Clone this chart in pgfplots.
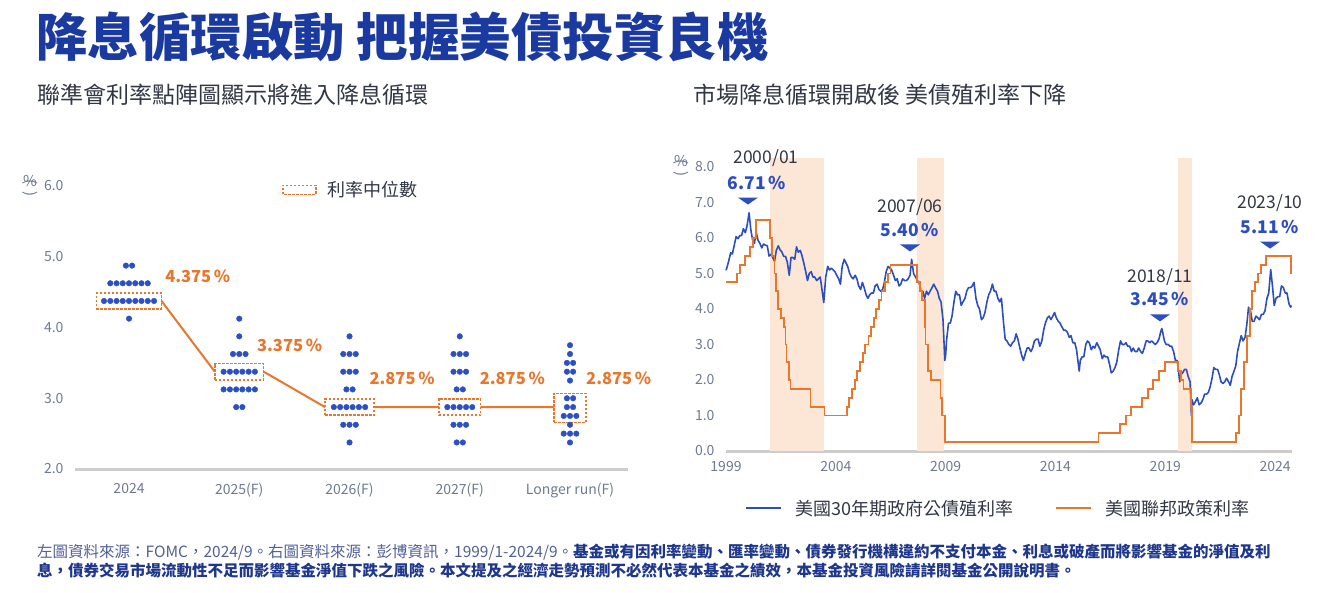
\documentclass[border=0pt]{standalone}
\usepackage{fontspec}
\setmainfont{Noto Sans CJK TC}
\usepackage{pgfplots}
\pgfplotsset{compat=1.18}

\definecolor{titleblue}{RGB}{27,58,160}
\definecolor{dotblue}{RGB}{44,80,196}
\definecolor{lineblue}{RGB}{44,78,190}
\definecolor{rateorange}{RGB}{232,118,44}
\definecolor{shade}{RGB}{252,230,214}
\definecolor{axisgray}{RGB}{205,205,205}
\definecolor{ticktext}{RGB}{110,122,145}
\definecolor{darktext}{RGB}{50,55,70}
\definecolor{notelight}{RGB}{80,95,150}
\definecolor{notebold}{RGB}{30,55,140}

\newcommand\fs[1]{\fontsize{#1}{#1}\selectfont}

% flat triangle pointing down, for the peak markers
\pgfdeclareplotmark{dtri}{%
  \pgfpathmoveto{\pgfqpoint{-10pt}{3.5pt}}%
  \pgfpathlineto{\pgfqpoint{10pt}{3.5pt}}%
  \pgfpathlineto{\pgfqpoint{0pt}{-3.5pt}}%
  \pgfpathclose\pgfusepathqfill}

\pgfplotsset{
  chartbase/.style={
    scale only axis, clip=false,
    axis x line*=bottom, axis y line*=left,
    y axis line style={draw=none},
    x axis line style={draw=axisgray, line width=3pt, -},
    major tick length=0pt,
    tick style={draw=none},
    tick label style={font=\fs{14}, text=ticktext},
    /pgf/number format/assume math mode=true,
    yticklabel style={/pgf/number format/fixed, /pgf/number format/fixed zerofill,
      /pgf/number format/precision=1, xshift=-8pt},
  },
}

\begin{document}
\begin{tikzpicture}
\useasboundingbox (0,0) rectangle (1322pt,592pt);

% titles
\node[anchor=west, inner sep=0, text=titleblue, font=\bfseries\fs{51.5}] at (36pt,555pt) {降息循環啟動 把握美債投資良機};
\node[anchor=west, inner sep=0, text=darktext, font=\fs{23}] at (37pt,497pt) {聯準會利率點陣圖顯示將進入降息循環};
\node[anchor=west, inner sep=0, text=darktext, font=\fs{23}] at (693pt,497pt) {市場降息循環開啟後 美債殖利率下降};

% unit labels
\node[align=center, inner sep=0, text=ticktext, font=\fs{15}] at (30pt,404pt)
  {\rotatebox{-90}{(}\\[-10pt]\%\\[-10pt]\rotatebox{-90}{)}};
\node[align=center, inner sep=0, text=ticktext, font=\fs{15}] at (681pt,424pt)
  {\rotatebox{-90}{(}\\[-10pt]\%\\[-10pt]\rotatebox{-90}{)}};

% ---------------- left: dot plot ----------------
\begin{axis}[chartbase,
  at={(75pt,123pt)}, anchor=south west,
  width=553pt, height=283pt,
  xmin=-0.49, xmax=4.526, ymin=2, ymax=6,
  xtick={0,1,2,3,4},
  xticklabels={2024,2025(F),2026(F),2027(F),Longer run(F)},
  xticklabel style={yshift=-11pt},
  ytick={2,3,4,5,6},
  unbounded coords=jump,
  legend style={at={(0.374,0.986)}, anchor=west, draw=none, fill=none,
    inner sep=0pt, font=\fs{18}, text=darktext,
    /tikz/every odd column/.append style={column sep=9pt}},
]
% median boxes
\addplot[rateorange, line width=1.5pt, dash pattern=on 2.5pt off 1.5pt, forget plot]
  coordinates {(-0.295,4.265) (0.295,4.265) (0.295,4.485) (-0.295,4.485) (-0.295,4.265)};
\addplot[rateorange, line width=1.5pt, dash pattern=on 2.5pt off 1.5pt, forget plot]
  coordinates {(0.778,3.26) (1.222,3.26) (1.222,3.49) (0.778,3.49) (0.778,3.26)};
\addplot[rateorange, line width=1.5pt, dash pattern=on 2.5pt off 1.5pt, forget plot]
  coordinates {(1.778,2.76) (2.222,2.76) (2.222,2.99) (1.778,2.99) (1.778,2.76)};
\addplot[rateorange, line width=1.5pt, dash pattern=on 2.5pt off 1.5pt, forget plot]
  coordinates {(2.81,2.76) (3.19,2.76) (3.19,2.99) (2.81,2.99) (2.81,2.76)};
\addplot[rateorange, line width=1.5pt, dash pattern=on 2.5pt off 1.5pt, forget plot]
  coordinates {(3.855,2.66) (4.145,2.66) (4.145,3.07) (3.855,3.07) (3.855,2.66)};
% median path
\addplot[rateorange, line width=2pt, forget plot] coordinates {
  (0.295,4.375) (0.778,3.375) (1,nan)
  (1.222,3.375) (1.778,2.875) (2,nan)
  (2.222,2.875) (2.81,2.875) (3,nan)
  (3.19,2.875) (3.855,2.875)};
% dots
\addplot[only marks, mark=*, mark size=2.8pt, dotblue, forget plot] coordinates {
  (-0.028,4.875) (0.028,4.875)
  (-0.170,4.625) (-0.113,4.625) (-0.057,4.625) (0,4.625) (0.057,4.625) (0.113,4.625) (0.170,4.625)
  (-0.227,4.375) (-0.170,4.375) (-0.113,4.375) (-0.057,4.375) (0,4.375) (0.057,4.375) (0.113,4.375) (0.170,4.375) (0.227,4.375)
  (0,4.125)
  (1,4.125) (1,3.875)
  (0.943,3.625) (1,3.625) (1.057,3.625)
  (0.858,3.375) (0.915,3.375) (0.972,3.375) (1.028,3.375) (1.085,3.375) (1.142,3.375)
  (0.858,3.125) (0.915,3.125) (0.972,3.125) (1.028,3.125) (1.085,3.125) (1.142,3.125)
  (0.972,2.875) (1.028,2.875)
  (2,3.875)
  (1.943,3.625) (2,3.625) (2.057,3.625)
  (1.943,3.375) (2,3.375) (2.057,3.375)
  (1.972,3.125) (2.028,3.125)
  (1.858,2.875) (1.915,2.875) (1.972,2.875) (2.028,2.875) (2.085,2.875) (2.142,2.875)
  (1.943,2.625) (2,2.625) (2.057,2.625)
  (2,2.375)
  (3,3.875)
  (2.943,3.625) (3,3.625) (3.057,3.625)
  (2.943,3.375) (3,3.375) (3.057,3.375)
  (2.972,3.125) (3.028,3.125)
  (2.887,2.875) (2.943,2.875) (3,2.875) (3.057,2.875) (3.113,2.875)
  (2.943,2.625) (3,2.625) (3.057,2.625)
  (2.972,2.375) (3.028,2.375)
  (4,3.75) (4,3.625) (3.972,3.5) (4.028,3.5) (3.972,3.375) (4.028,3.375) (4,3.25)
  (3.972,3.0) (4.028,3.0) (3.972,2.875) (4.028,2.875)
  (3.943,2.75) (4,2.75) (4.057,2.75) (4,2.625)
  (3.943,2.5) (4,2.5) (4.057,2.5) (4,2.375)};
\addlegendimage{legend image code/.code={\draw[rateorange, line width=1.5pt, dash pattern=on 2.5pt off 1.5pt] (0pt,-4.5pt) rectangle (33pt,4.5pt);}}
\addlegendentry{利率中位數}
% median labels
\begin{scope}[every node/.style={anchor=west, inner sep=0, text=rateorange, font=\bfseries\fs{16.5}}]
\node at (axis cs:0.327,4.72) {4.375\,\%};
\node at (axis cs:1.16,3.75) {3.375\,\%};
\node at (axis cs:2.18,3.28) {2.875\,\%};
\node at (axis cs:3.18,3.28) {2.875\,\%};
\node at (axis cs:4.145,3.28) {2.875\,\%};
\end{scope}
\end{axis}

% ---------------- right: yields and policy rate ----------------
\begin{axis}[chartbase,
  at={(726pt,141pt)}, anchor=south west,
  width=566pt, height=292.9pt,
  xmin=1999, xmax=2024.77, ymin=0, ymax=8.25,
  xtick={1999,2004,2009,2014,2019,2024},
  xticklabels={1999,2004,2009,2014,2019,2024},
  xticklabel style={yshift=-7pt},
  ytick={0,1,2,3,4,5,6,7,8},
  legend columns=-1,
  legend style={at={(0.0336,-0.195)}, anchor=west, draw=none, fill=none,
    inner sep=0pt, font=\fs{18}, text=darktext,
    /tikz/every odd column/.append style={column sep=11pt},
    /tikz/every even column/.append style={column sep=40pt}},
  legend image code/.code={\draw[#1, line width=2pt] (0pt,0pt) -- (35pt,0pt);},
]
% rate-cut cycles
\addplot[fill=shade, draw=none, forget plot] coordinates {(2001.0,0) (2001.0,8.25) (2003.46,8.25) (2003.46,0)} -- cycle;
\addplot[fill=shade, draw=none, forget plot] coordinates {(2007.70,0) (2007.70,8.25) (2008.92,8.25) (2008.92,0)} -- cycle;
\addplot[fill=shade, draw=none, forget plot] coordinates {(2019.56,0) (2019.56,8.25) (2020.20,8.25) (2020.20,0)} -- cycle;

% US 30Y Treasury yield
\addplot[lineblue, line width=1.6pt, line join=round] coordinates {
(1999.00,5.09) (1999.04,5.16) (1999.13,5.37) (1999.21,5.58) (1999.29,5.55) (1999.38,5.81) (1999.46,6.04)
(1999.54,5.98) (1999.63,6.07) (1999.71,6.07) (1999.79,6.26) (1999.88,6.15) (1999.96,6.35)
(2000.05,6.71) (2000.13,6.23) (2000.21,5.95) (2000.29,5.85) (2000.38,6.15) (2000.46,5.93)
(2000.54,5.85) (2000.63,5.72) (2000.71,5.83) (2000.79,5.80) (2000.88,5.78) (2000.96,5.49)
(2001.04,5.54) (2001.13,5.45) (2001.21,5.34) (2001.29,5.65) (2001.38,5.78) (2001.46,5.67)
(2001.54,5.61) (2001.63,5.48) (2001.71,5.48) (2001.79,5.32) (2001.88,4.95) (2001.96,5.45)
(2002.04,5.45) (2002.13,5.40) (2002.21,5.75) (2002.29,5.60) (2002.38,5.65) (2002.46,5.50)
(2002.54,5.30) (2002.63,5.05) (2002.71,4.80) (2002.79,5.00) (2002.88,5.05) (2002.96,4.90)
(2003.04,4.90) (2003.13,4.80) (2003.21,4.85) (2003.29,4.90) (2003.38,4.50) (2003.45,4.18)
(2003.54,4.90) (2003.63,5.20) (2003.71,5.10) (2003.79,5.15) (2003.88,5.10) (2003.96,5.05)
(2004.04,4.95) (2004.13,4.85) (2004.21,4.70) (2004.29,5.20) (2004.38,5.40) (2004.46,5.30)
(2004.54,5.20) (2004.63,5.00) (2004.71,4.90) (2004.79,4.85) (2004.88,4.95) (2004.96,4.85)
(2005.04,4.65) (2005.13,4.55) (2005.21,4.75) (2005.29,4.60) (2005.38,4.40) (2005.46,4.30)
(2005.54,4.40) (2005.63,4.45) (2005.71,4.45) (2005.79,4.65) (2005.88,4.70) (2005.96,4.55)
(2006.04,4.50) (2006.13,4.55) (2006.21,4.75) (2006.29,5.05) (2006.38,5.20) (2006.46,5.15)
(2006.54,5.10) (2006.63,4.95) (2006.71,4.80) (2006.79,4.85) (2006.88,4.65) (2006.96,4.70)
(2007.04,4.85) (2007.13,4.80) (2007.21,4.80) (2007.29,4.85) (2007.38,4.95) (2007.45,5.40)
(2007.54,5.00) (2007.63,4.90) (2007.71,4.80) (2007.79,4.75) (2007.88,4.50) (2007.96,4.50)
(2008.04,4.30) (2008.13,4.50) (2008.21,4.40) (2008.29,4.50) (2008.38,4.60) (2008.46,4.70)
(2008.54,4.60) (2008.63,4.50) (2008.71,4.30) (2008.79,4.20) (2008.88,3.70) (2008.93,3.00)
(2008.96,2.55) (2009.00,2.70)
(2009.04,3.10) (2009.13,3.60) (2009.21,3.60) (2009.29,3.80) (2009.38,4.20) (2009.46,4.50)
(2009.54,4.40) (2009.63,4.40) (2009.71,4.10) (2009.79,4.20) (2009.88,4.30) (2009.96,4.50)
(2010.04,4.60) (2010.13,4.60) (2010.21,4.65) (2010.29,4.75) (2010.38,4.30) (2010.46,4.10)
(2010.54,4.00) (2010.63,3.70) (2010.71,3.75) (2010.79,3.90) (2010.88,4.20) (2010.96,4.40)
(2011.04,4.50) (2011.13,4.70) (2011.21,4.50) (2011.29,4.50) (2011.38,4.30) (2011.46,4.20)
(2011.54,4.30) (2011.63,3.65) (2011.71,3.15) (2011.79,3.10) (2011.88,3.00) (2011.96,2.95)
(2012.04,3.05) (2012.13,3.10) (2012.21,3.30) (2012.29,3.15) (2012.38,2.90) (2012.46,2.70)
(2012.54,2.55) (2012.63,2.75) (2012.71,2.90) (2012.79,2.90) (2012.88,2.80) (2012.96,2.90)
(2013.04,3.10) (2013.13,3.15) (2013.21,3.15) (2013.29,2.95) (2013.38,3.10) (2013.46,3.40)
(2013.54,3.60) (2013.63,3.75) (2013.71,3.80) (2013.79,3.70) (2013.88,3.80) (2013.96,3.90)
(2014.04,3.75) (2014.13,3.65) (2014.21,3.60) (2014.29,3.50) (2014.38,3.40) (2014.46,3.40)
(2014.54,3.35) (2014.63,3.20) (2014.71,3.25) (2014.79,3.05) (2014.88,3.05) (2014.96,2.85)
(2015.04,2.45) (2015.08,2.25) (2015.13,2.55) (2015.21,2.65) (2015.29,2.65) (2015.38,3.00) (2015.46,3.10)
(2015.54,3.05) (2015.63,2.85) (2015.71,2.95) (2015.79,2.90) (2015.88,3.05) (2015.96,2.95)
(2016.04,2.85) (2016.13,2.60) (2016.21,2.70) (2016.29,2.65) (2016.38,2.65) (2016.46,2.45)
(2016.54,2.20) (2016.63,2.25) (2016.71,2.35) (2016.79,2.50) (2016.88,2.85) (2016.96,3.10)
(2017.04,3.00) (2017.13,3.00) (2017.21,3.05) (2017.29,2.95) (2017.38,2.95) (2017.46,2.80)
(2017.54,2.90) (2017.63,2.80) (2017.71,2.80) (2017.79,2.90) (2017.88,2.80) (2017.96,2.75)
(2018.04,2.90) (2018.13,3.10) (2018.21,3.10) (2018.29,3.05) (2018.38,3.10) (2018.46,3.05)
(2018.54,3.00) (2018.63,3.05) (2018.71,3.15) (2018.79,3.35) (2018.84,3.45) (2018.88,3.35) (2018.96,3.10)
(2019.04,3.00) (2019.13,3.00) (2019.21,2.95) (2019.29,2.95) (2019.38,2.80) (2019.46,2.55)
(2019.54,2.55) (2019.63,2.10) (2019.66,1.95) (2019.71,2.15) (2019.79,2.20) (2019.88,2.30) (2019.96,2.30)
(2020.04,2.10) (2020.13,1.95) (2020.19,1.00) (2020.21,1.45) (2020.29,1.30) (2020.38,1.40) (2020.46,1.50)
(2020.54,1.30) (2020.63,1.35) (2020.71,1.45) (2020.79,1.60) (2020.88,1.60) (2020.96,1.65)
(2021.04,1.80) (2021.13,2.05) (2021.21,2.35) (2021.29,2.30) (2021.38,2.30) (2021.46,2.15)
(2021.54,1.95) (2021.63,1.90) (2021.71,1.95) (2021.79,2.05) (2021.88,1.95) (2021.96,1.85)
(2022.04,2.10) (2022.13,2.25) (2022.21,2.40) (2022.29,2.80) (2022.38,3.05) (2022.46,3.25)
(2022.54,3.10) (2022.63,3.20) (2022.71,3.55) (2022.79,4.05) (2022.88,3.95) (2022.96,3.65)
(2023.04,3.65) (2023.13,3.80) (2023.21,3.75) (2023.29,3.70) (2023.38,3.85) (2023.46,3.85)
(2023.54,3.95) (2023.63,4.30) (2023.71,4.45) (2023.80,5.11) (2023.88,4.65) (2023.96,4.10)
(2024.04,4.30) (2024.13,4.35) (2024.21,4.35) (2024.29,4.65) (2024.38,4.60) (2024.46,4.45)
(2024.54,4.45) (2024.63,4.15) (2024.71,4.05) (2024.74,4.10)};
\addlegendentry{美國30年期政府公債殖利率}

% Fed policy rate (target, upper bound after 2008)
\addplot[rateorange, line width=1.8pt, const plot] coordinates {
(1999.00,4.75) (1999.49,5.00) (1999.65,5.25) (1999.87,5.50) (2000.09,5.75) (2000.22,6.00)
(2000.37,6.50) (2001.00,6.00) (2001.08,5.50) (2001.21,5.00) (2001.29,4.50) (2001.37,4.00)
(2001.49,3.75) (2001.64,3.50) (2001.71,3.00) (2001.75,2.50) (2001.85,2.00) (2001.94,1.75)
(2002.85,1.25) (2003.48,1.00) (2004.50,1.25) (2004.61,1.50) (2004.72,1.75) (2004.86,2.00)
(2004.95,2.25) (2005.09,2.50) (2005.22,2.75) (2005.33,3.00) (2005.49,3.25) (2005.60,3.50)
(2005.72,3.75) (2005.83,4.00) (2005.95,4.25) (2006.08,4.50) (2006.24,4.75) (2006.36,5.00)
(2006.49,5.25) (2007.71,4.75) (2007.83,4.50) (2007.94,4.25) (2008.06,3.50) (2008.08,3.00)
(2008.21,2.25) (2008.33,2.00) (2008.77,1.50) (2008.82,1.00) (2008.96,0.25) (2015.96,0.50)
(2016.95,0.75) (2017.20,1.00) (2017.45,1.25) (2017.95,1.50) (2018.22,1.75) (2018.45,2.00)
(2018.73,2.25) (2018.97,2.50) (2019.58,2.25) (2019.71,2.00) (2019.83,1.75) (2020.17,1.25)
(2020.21,0.25) (2022.21,0.50) (2022.34,1.00) (2022.46,1.75) (2022.57,2.50) (2022.72,3.25)
(2022.84,4.00) (2022.96,4.50) (2023.09,4.75) (2023.22,5.00) (2023.34,5.25) (2023.57,5.50)
(2024.71,5.00) (2024.75,5.00)};
\addlegendentry{美國聯邦政策利率}

% peak markers
\addplot[only marks, mark=dtri, color=lineblue, forget plot] coordinates {
  (2000.00,7.04) (2007.38,5.72) (2018.76,3.75) (2023.77,5.80)};
\begin{scope}[every node/.style={inner sep=0}]
\node[text=darktext, font=\fs{17.5}] at (axis cs:2000.82,8.25) {2000/01};
\node[text=lineblue, font=\bfseries\fs{17.5}] at (axis cs:2000.41,7.56) {6.71\,\%};
\node[text=darktext, font=\fs{17.5}] at (axis cs:2007.38,6.87) {2007/06};
\node[text=lineblue, font=\bfseries\fs{17.5}] at (axis cs:2007.38,6.23) {5.40\,\%};
\node[text=darktext, font=\fs{17.5}] at (axis cs:2018.76,4.91) {2018/11};
\node[text=lineblue, font=\bfseries\fs{17.5}] at (axis cs:2018.76,4.28) {3.45\,\%};
\node[text=darktext, font=\fs{17.5}] at (axis cs:2023.77,6.97) {2023/10};
\node[text=lineblue, font=\bfseries\fs{17.5}] at (axis cs:2023.77,6.31) {5.11\,\%};
\end{scope}
\end{axis}

% footnote
\node[anchor=base west, inner sep=0, font=\fs{15.5}] at (37pt,34.5pt)
  {{\color{notelight}左圖資料來源：FOMC，2024/9。右圖資料來源：彭博資訊，1999/1-2024/9。}{\bfseries\color{notebold}基金或有因利率變動、匯率變動、債券發行機構違約不支付本金、利息或破產而將影響基金的淨值及利}};
\node[anchor=base west, inner sep=0, font=\bfseries\fs{15.5}, text=notebold] at (37pt,15.5pt)
  {息，債券交易市場流動性不足而影響基金淨值下跌之風險。本文提及之經濟走勢預測不必然代表本基金之績效，本基金投資風險請詳閱基金公開說明書。};
\end{tikzpicture}
\end{document}
